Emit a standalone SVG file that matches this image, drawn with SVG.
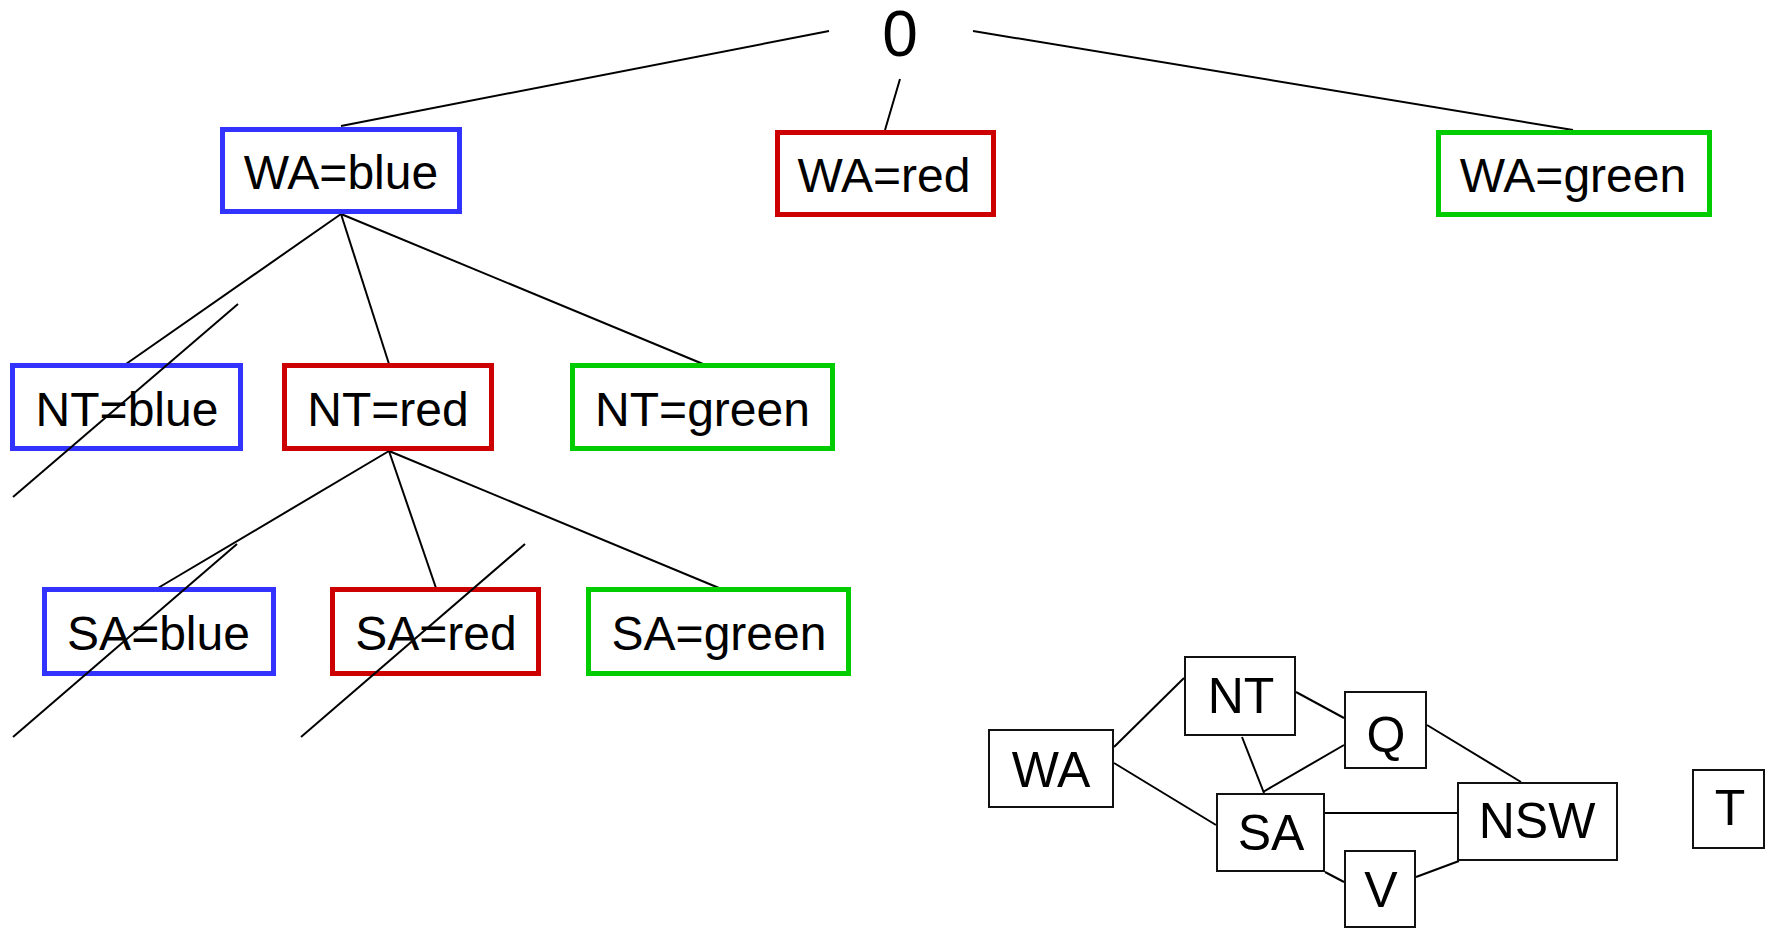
<svg xmlns="http://www.w3.org/2000/svg" width="1767" height="929" viewBox="0 0 1767 929">
<style>
.t{font-family:"Liberation Sans",Arial,sans-serif;font-size:48px;fill:#000;text-anchor:middle}
.g{font-family:"Comic Sans MS","Liberation Sans",sans-serif;font-size:50px;fill:#000;text-anchor:middle}
.b{fill:#fff;stroke:#3333ff;stroke-width:5}
.r{fill:#fff;stroke:#cc0000;stroke-width:5}
.n{fill:#fff;stroke:#00cc00;stroke-width:5}
.m{fill:#fff;stroke:#111;stroke-width:2}
.l{stroke:#000;stroke-width:2;fill:none}
</style>
<rect width="1767" height="929" fill="#fff"/>
<g id="connectors">
<line class="l" x1="829" y1="31" x2="341" y2="126"/>
<line class="l" x1="900" y1="79" x2="885" y2="130"/>
<line class="l" x1="973" y1="31" x2="1573" y2="130"/>
<line class="l" x1="341" y1="214" x2="126" y2="364"/>
<line class="l" x1="341" y1="214" x2="389" y2="364"/>
<line class="l" x1="341" y1="214" x2="703" y2="364"/>
<line class="l" x1="389" y1="451" x2="158" y2="588"/>
<line class="l" x1="389" y1="451" x2="436" y2="588"/>
<line class="l" x1="389" y1="451" x2="719" y2="588"/>
<line class="l" x1="1114" y1="747" x2="1184" y2="678"/>
<line class="l" x1="1114" y1="763" x2="1216" y2="825"/>
<line class="l" x1="1296" y1="692" x2="1344" y2="718"/>
<line class="l" x1="1242" y1="737" x2="1264" y2="793"/>
<line class="l" x1="1263" y1="792" x2="1344" y2="745"/>
<line class="l" x1="1427" y1="725" x2="1521" y2="782"/>
<line class="l" x1="1325" y1="813" x2="1457" y2="813"/>
<line class="l" x1="1325" y1="872" x2="1344" y2="882"/>
<line class="l" x1="1416" y1="877" x2="1459" y2="861"/>
</g>
<g id="root"><text class="t" x="900" y="56" style="font-size:64px">0</text></g>
<g id="wa-blue"><rect class="b" x="222.5" y="129.5" width="237" height="82"/><text class="t" x="341" y="189">WA=blue</text></g>
<g id="wa-red"><rect class="r" x="777.5" y="132.5" width="216" height="82"/><text class="t" x="884" y="192">WA=red</text></g>
<g id="wa-green"><rect class="n" x="1438.5" y="132.5" width="271" height="82"/><text class="t" x="1573" y="192">WA=green</text></g>
<g id="nt-blue"><rect class="b" x="12.5" y="365.5" width="228" height="83"/><text class="t" x="127" y="426">NT=blue</text></g>
<g id="nt-red"><rect class="r" x="284.5" y="365.5" width="207" height="83"/><text class="t" x="388" y="426">NT=red</text></g>
<g id="nt-green"><rect class="n" x="572.5" y="365.5" width="260" height="83"/><text class="t" x="702.5" y="426">NT=green</text></g>
<g id="sa-blue"><rect class="b" x="44.5" y="589.5" width="229" height="84"/><text class="t" x="158.5" y="650">SA=blue</text></g>
<g id="sa-red"><rect class="r" x="332.5" y="589.5" width="206" height="84"/><text class="t" x="436" y="650">SA=red</text></g>
<g id="sa-green"><rect class="n" x="588.5" y="589.5" width="260" height="84"/><text class="t" x="719" y="650">SA=green</text></g>
<g id="strikes">
<line class="l" x1="238" y1="304" x2="13" y2="497"/>
<line class="l" x1="237" y1="544" x2="13" y2="737"/>
<line class="l" x1="525" y1="544" x2="301" y2="737"/>
</g>
<g id="map-WA"><rect class="m" x="989" y="730" width="124" height="77"/><text class="g" x="1051" y="787">WA</text></g>
<g id="map-NT"><rect class="m" x="1185" y="657" width="110" height="78"/><text class="g" x="1241" y="713">NT</text></g>
<g id="map-Q"><rect class="m" x="1345" y="692" width="81" height="76"/><text class="g" x="1386" y="752">Q</text></g>
<g id="map-SA"><rect class="m" x="1217" y="794" width="107" height="77"/><text class="g" x="1271" y="850">SA</text></g>
<g id="map-NSW"><rect class="m" x="1458" y="783" width="159" height="77"/><text class="g" x="1537" y="838">NSW</text></g>
<g id="map-V"><rect class="m" x="1345" y="851" width="70" height="76"/><text class="g" x="1381" y="907">V</text></g>
<g id="map-T"><rect class="m" x="1693" y="770" width="71" height="78"/><text class="g" x="1730" y="825">T</text></g>
</svg>
